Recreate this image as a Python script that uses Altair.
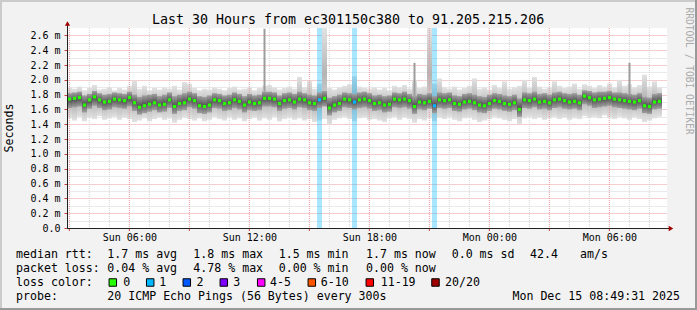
import altair as alt
import pandas as pd

FONT = "DejaVu Sans Mono"

# ---- data (milliseconds), one value per 15-minute step ----
med = [1.74, 1.75, 1.76, 1.66, 1.73, 1.77, 1.73, 1.70, 1.71, 1.74,
       1.73, 1.72, 1.76, 1.69, 1.63, 1.65, 1.67, 1.69, 1.66, 1.67,
       1.73, 1.64, 1.68, 1.69, 1.74, 1.72, 1.65, 1.64, 1.66, 1.73,
       1.72, 1.68, 1.69, 1.73, 1.71, 1.66, 1.70, 1.68, 1.69, 1.75,
       1.75, 1.74, 1.68, 1.72, 1.73, 1.70, 1.74, 1.73, 1.69, 1.68,
       1.73, 1.75, 1.62, 1.66, 1.68, 1.74, 1.73, 1.70, 1.73, 1.74,
       1.72, 1.68, 1.69, 1.66, 1.67, 1.74, 1.73, 1.74, 1.72, 1.64,
       1.70, 1.69, 1.71, 1.65, 1.73, 1.72, 1.73, 1.68, 1.67, 1.70,
       1.71, 1.69, 1.66, 1.65, 1.68, 1.72, 1.71, 1.68, 1.67, 1.69,
       1.60, 1.73, 1.72, 1.74, 1.70, 1.71, 1.69, 1.73, 1.74, 1.72,
       1.70, 1.71, 1.69, 1.78, 1.76, 1.73, 1.74, 1.75, 1.76, 1.74,
       1.73, 1.72, 1.71, 1.70, 1.72, 1.65, 1.64, 1.70, 1.71]
hi = [1.90, 1.88, 1.91, 1.86, 1.89, 1.93, 1.87, 1.88, 1.90, 1.86,
      1.89, 1.87, 1.92, 1.99, 1.88, 1.92, 1.86, 1.89, 1.87, 1.90,
      1.88, 1.92, 1.87, 1.97, 1.95, 1.89, 1.86, 1.88, 1.87, 1.90,
      1.88, 1.86, 1.89, 1.91, 1.87, 1.88, 1.90, 1.86, 1.89, 1.92,
      1.93, 1.90, 1.87, 1.89, 1.91, 1.88, 2.04, 1.90, 1.99, 1.88,
      1.95, 2.70, 1.89, 1.87, 1.90, 1.92, 1.94, 2.05, 1.91, 1.89,
      1.88, 1.90, 1.87, 1.89, 1.86, 1.92, 1.90, 1.93, 1.88, 2.00,
      1.89, 1.91, 2.70, 1.95, 2.02, 1.90, 1.88, 1.91, 1.87, 1.89,
      1.92, 2.02, 1.88, 1.90, 1.87, 1.93, 1.89, 1.98, 1.88, 1.90,
      1.92, 2.00, 1.89, 2.04, 1.91, 1.88, 1.90, 1.98, 1.92, 1.89,
      1.91, 1.95, 1.88, 1.94, 1.92, 1.89, 1.93, 1.91, 1.95, 1.90,
      2.00, 1.92, 1.94, 1.90, 1.93, 2.07, 1.91, 1.98, 1.90]
lo = [1.48, 1.45, 1.50, 1.44, 1.49, 1.47, 1.51, 1.46, 1.48, 1.50,
      1.46, 1.49, 1.47, 1.43, 1.45, 1.48, 1.44, 1.47, 1.49, 1.46,
      1.48, 1.42, 1.46, 1.49, 1.47, 1.45, 1.48, 1.44, 1.46, 1.50,
      1.47, 1.45, 1.49, 1.46, 1.48, 1.44, 1.47, 1.49, 1.45, 1.48,
      1.46, 1.50, 1.44, 1.47, 1.49, 1.46, 1.48, 1.45, 1.47, 1.43,
      1.45, 1.47, 1.40, 1.46, 1.48, 1.50, 1.47, 1.44, 1.48, 1.49,
      1.46, 1.47, 1.45, 1.43, 1.48, 1.50, 1.46, 1.49, 1.47, 1.42,
      1.47, 1.45, 1.48, 1.44, 1.49, 1.47, 1.50, 1.46, 1.44, 1.48,
      1.49, 1.46, 1.43, 1.45, 1.47, 1.50, 1.48, 1.46, 1.44, 1.47,
      1.40, 1.48, 1.50, 1.47, 1.49, 1.46, 1.48, 1.50, 1.47, 1.49,
      1.46, 1.48, 1.47, 1.51, 1.49, 1.50, 1.48, 1.52, 1.49, 1.47,
      1.50, 1.48, 1.46, 1.49, 1.47, 1.43, 1.45, 1.48, 1.50]
dhi = [1.82, 1.83, 1.84, 1.79, 1.81, 1.85, 1.82, 1.80, 1.81, 1.83,
       1.82, 1.81, 1.84, 1.80, 1.77, 1.79, 1.80, 1.81, 1.78, 1.80,
       1.83, 1.78, 1.80, 1.82, 1.84, 1.82, 1.78, 1.77, 1.79, 1.82,
       1.81, 1.79, 1.80, 1.83, 1.81, 1.78, 1.81, 1.79, 1.80, 1.84,
       1.84, 1.83, 1.79, 1.82, 1.83, 1.81, 1.84, 1.82, 1.80, 1.79,
       1.83, 1.85, 1.76, 1.78, 1.80, 1.83, 1.82, 1.81, 1.83, 1.84,
       1.82, 1.79, 1.80, 1.78, 1.79, 1.83, 1.82, 1.84, 1.81, 1.78,
       1.81, 1.80, 1.82, 1.78, 1.83, 1.82, 1.83, 1.79, 1.78, 1.81,
       1.82, 1.80, 1.78, 1.77, 1.80, 1.82, 1.81, 1.79, 1.78, 1.80,
       1.75, 1.83, 1.82, 1.84, 1.81, 1.82, 1.80, 1.83, 1.84, 1.82,
       1.81, 1.82, 1.80, 1.86, 1.85, 1.83, 1.84, 1.84, 1.85, 1.83,
       1.83, 1.82, 1.81, 1.80, 1.82, 1.77, 1.76, 1.81, 1.82]
dlo = [1.62, 1.63, 1.64, 1.56, 1.61, 1.65, 1.62, 1.59, 1.60, 1.63,
       1.62, 1.61, 1.64, 1.58, 1.53, 1.55, 1.57, 1.59, 1.56, 1.57,
       1.62, 1.54, 1.58, 1.59, 1.63, 1.61, 1.55, 1.54, 1.56, 1.62,
       1.61, 1.58, 1.59, 1.62, 1.60, 1.56, 1.59, 1.58, 1.59, 1.64,
       1.64, 1.63, 1.58, 1.61, 1.62, 1.60, 1.63, 1.62, 1.59, 1.58,
       1.62, 1.64, 1.52, 1.56, 1.58, 1.63, 1.62, 1.60, 1.62, 1.63,
       1.61, 1.58, 1.59, 1.56, 1.57, 1.63, 1.62, 1.63, 1.61, 1.54,
       1.60, 1.59, 1.61, 1.55, 1.62, 1.61, 1.62, 1.58, 1.57, 1.60,
       1.61, 1.59, 1.56, 1.55, 1.58, 1.61, 1.60, 1.58, 1.57, 1.59,
       1.50, 1.62, 1.61, 1.63, 1.60, 1.61, 1.59, 1.62, 1.63, 1.61,
       1.60, 1.61, 1.59, 1.67, 1.65, 1.62, 1.63, 1.64, 1.65, 1.63,
       1.62, 1.61, 1.60, 1.59, 1.61, 1.55, 1.54, 1.60, 1.61]
loss = [0] * 119
for k in (50, 57, 73):
    loss[k] = 1
spike_step = [39, 69, 112]
spike_top = [2.69, 2.23, 2.23]

loss_labels = ["0", "1", "2", "3", "4-5", "6-10", "11-19", "20/20"]
loss_colors = ["#26ff00", "#00b8ff", "#0059ff", "#7e00ff", "#ff00ff",
               "#ff5500", "#ff0000", "#a10000"]

rtt_tokens = ["median rtt:", "1.7 ms avg", "1.8 ms max", "1.5 ms min",
              "1.7 ms now", "0.0 ms sd", "42.4", "am/s"]
loss_tokens = ["packet loss:", "0.04 % avg", "4.78 % max", "0.00 % min",
               "0.00 % now"]
title_text = "Last 30 Hours from ec301150c380 to 91.205.215.206"
probe_text = "20 ICMP Echo Pings (56 Bytes) every 300s"
stamp_text = "Mon Dec 15 08:49:31 2025"

# ---- table ----
n = len(med)
start = pd.Timestamp("2025-12-14 02:53:00")
step = pd.Timedelta(minutes=15)
df = pd.DataFrame({
    "t0": [start + i * step for i in range(n)],
    "t1": [start + (i + 1) * step for i in range(n)],
    "tc": [start + i * step + step / 2 for i in range(n)],
    "med": med, "lo": lo, "hi": hi, "dlo": dlo, "dhi": dhi, "loss": loss,
})
df["mcol"] = [loss_colors[1] if l else loss_colors[0] for l in loss]
spk = pd.DataFrame({
    "tc": [df["tc"][i] for i in spike_step],
    "y0": [dhi[i] for i in spike_step],
    "y1": spike_top,
})

RED = "#ea9a9a"
GRAY = "#d4d4d4"
TICKRED = "#d04040"

grid_hours = list(range(3, 33))
vgrid = pd.DataFrame({
    "t": [pd.Timestamp("2025-12-14") + pd.Timedelta(hours=h) for h in grid_hours],
    "col": [RED if h % 3 == 0 else GRAY for h in grid_hours],
    "major": [h % 3 == 0 for h in grid_hours],
})

hour_values = [alt.DateTime(year=2025, month=12, date=14 + h // 24, hours=h % 24)
               for h in grid_hours if h % 6 == 0]
xscale = alt.Scale(domain=[alt.DateTime(year=2025, month=12, date=14, hours=2, minutes=53),
                           alt.DateTime(year=2025, month=12, date=15, hours=8, minutes=53)],
                   nice=False)
yscale = alt.Scale(domain=[0, 2.7], nice=False, zero=False)

xaxis = alt.Axis(
    values=hour_values, format="%a %H:%M",
    grid=False, ticks=False, domain=False,
    labelFont=FONT, labelFontSize=10, labelColor="#000000",
    labelPadding=4, labelOverlap=False, labelFlush=False, title=None,
)
yvals = [round(i * 0.1, 1) for i in range(27)]
yaxis = alt.Axis(
    values=yvals,
    labelExpr="datum.value == 0 ? '0.0\u00a0\u00a0' : (round(datum.value*10) % 2 == 0 ? format(datum.value, '.1f') + ' m' : '')",
    grid=True, gridDash=[1, 1], gridWidth=1,
    gridColor=alt.condition("round(datum.value*10) % 2 == 0", alt.value(RED), alt.value(GRAY)),
    tickColor=alt.condition("round(datum.value*10) % 2 == 0", alt.value(TICKRED), alt.value("transparent")),
    tickSize=3, domain=False, labelFont=FONT, labelFontSize=10, labelColor="#000000",
    labelPadding=4, labelOverlap=False, labelFlush=False, title=None,
)

light_grad = alt.LinearGradient(
    gradient="linear", x1=0, x2=0, y1=0, y2=1,
    stops=[alt.GradientStop(color="#e2e2e2", offset=0),
           alt.GradientStop(color="#b4b4b4", offset=0.5),
           alt.GradientStop(color="#e2e2e2", offset=1)])
dark_grad = alt.LinearGradient(
    gradient="linear", x1=0, x2=0, y1=0, y2=1,
    stops=[alt.GradientStop(color="#a0a0a0", offset=0),
           alt.GradientStop(color="#555555", offset=0.5),
           alt.GradientStop(color="#a0a0a0", offset=1)])


def X(field):
    return alt.X(field, scale=xscale, axis=xaxis)


def Y(field):
    return alt.Y(field, scale=yscale, axis=yaxis)


vlines = alt.Chart(vgrid).mark_rule(strokeDash=[1, 1], strokeWidth=1).encode(
    x=X("t:T"), y=Y("lo:Q").__class__("lo:Q", scale=yscale, axis=yaxis) if False else alt.value(0),
    y2=alt.value(200), color=alt.Color("col:N", scale=None))
vticks = alt.Chart(vgrid[vgrid["major"]]).mark_rule(strokeWidth=1, color=TICKRED).encode(
    x=X("t:T"), y=alt.value(200), y2=alt.value(203))
loss_bars = alt.Chart(df[df["loss"] > 0]).mark_rect(color="#00b8ff", opacity=0.34).encode(
    x=X("t0:T"), x2="t1:T", y=alt.value(0), y2=alt.value(200))
light = alt.Chart(df).mark_rect(color=light_grad, clip=True).encode(
    x=X("t0:T"), x2="t1:T", y=Y("lo:Q"), y2="hi:Q")
dark = alt.Chart(df).mark_rect(color=dark_grad, clip=True).encode(
    x=X("t0:T"), x2="t1:T", y=Y("dlo:Q"), y2="dhi:Q")
spikes = alt.Chart(spk).mark_rule(color="#9c9c9c", strokeWidth=2, clip=True).encode(
    x=X("tc:T"), y=Y("y0:Q"), y2="y1:Q")
medians = alt.Chart(df).mark_square(size=10, opacity=1).encode(
    x=X("tc:T"), y=Y("med:Q"), color=alt.Color("mcol:N", scale=None))

data_layer = alt.layer(light, vlines, vticks, loss_bars, dark, spikes, medians)

one = pd.DataFrame({"a": [0]})
OX, OY = 67, 28


def text(s, px, py, size=11.6, align="left", angle=0, color="#000000"):
    return alt.Chart(one).mark_text(
        text=s, font=FONT, fontSize=size, align=align, baseline="middle",
        angle=angle, color=color).encode(x=alt.value(px - OX), y=alt.value(py - OY))


def rule(x1, y1, x2, y2, color, w=1):
    return alt.Chart(one).mark_rule(color=color, strokeWidth=w).encode(
        x=alt.value(x1 - OX), x2=alt.value(x2 - OX), y=alt.value(y1 - OY), y2=alt.value(y2 - OY))


deco = []
# borders
deco.append(rule(0, 1, 697, 1, "#cbcbcb", 2))
deco.append(rule(1, 0, 1, 310, "#cbcbcb", 2))
deco.append(rule(0, 309, 697, 309, "#999999", 2))
deco.append(rule(696, 0, 696, 310, "#999999", 2))
# axis lines and arrows
deco.append(rule(67.5, 24, 67.5, 228.5, "#222222"))
deco.append(rule(67, 228.5, 670, 228.5, "#222222"))
deco.append(alt.Chart(one).mark_point(shape="triangle-up", filled=True, size=28, color="#a00000", opacity=1)
            .encode(x=alt.value(67.5 - OX), y=alt.value(23.5 - OY)))
deco.append(alt.Chart(one).mark_point(shape="triangle-right", filled=True, size=28, color="#a00000", opacity=1)
            .encode(x=alt.value(671 - OX), y=alt.value(228.5 - OY)))

# texts
deco.append(text(title_text, 348, 19.5, size=13.3, align="center"))
deco.append(text("Seconds", 10, 128, size=11.6, align="center", angle=270))
deco.append(text("RRDTOOL / TOBI OETIKER", 688.5, 71, size=9.6, align="center", angle=90, color="#aaaaaa"))

col_x = [16, 107.3, 193.3, 278.7, 366, 451.7, 530, 580]
for s, px in zip(rtt_tokens, col_x):
    deco.append(text(s, px, 254.5))
for s, px in zip(loss_tokens, col_x):
    deco.append(text(s, px, 268.5))
deco.append(text("loss color:", 16, 282.5))
box_x = [108.3, 145.7, 182.3, 219.3, 256.7, 307.3, 365.3, 431]
lab_x = [123.3, 159.3, 196.5, 233.3, 270, 320.7, 380.7, 445]
for lab, c, bx, lx in zip(loss_labels, loss_colors, box_x, lab_x):
    deco.append(alt.Chart(one).mark_square(size=56, color=c, stroke="#000000", strokeWidth=1, opacity=1)
                .encode(x=alt.value(bx + 4.5 - OX), y=alt.value(282.5 - OY)))
    deco.append(text(lab, lx, 282.5))
deco.append(text("probe:", 16, 296.5))
deco.append(text(probe_text, 107.3, 296.5))
deco.append(text(stamp_text, 680, 296.5, align="right"))

chart = alt.layer(data_layer, *deco).properties(
    width=600, height=200,
    autosize=alt.AutoSizeParams(type="none"),
    padding={"left": 67, "top": 28, "right": 30, "bottom": 82},
).configure(background="#f2f2f2").configure_view(fill="white", strokeWidth=0)

chart.save("out.html", embed_options={"renderer": "svg", "actions": False})
